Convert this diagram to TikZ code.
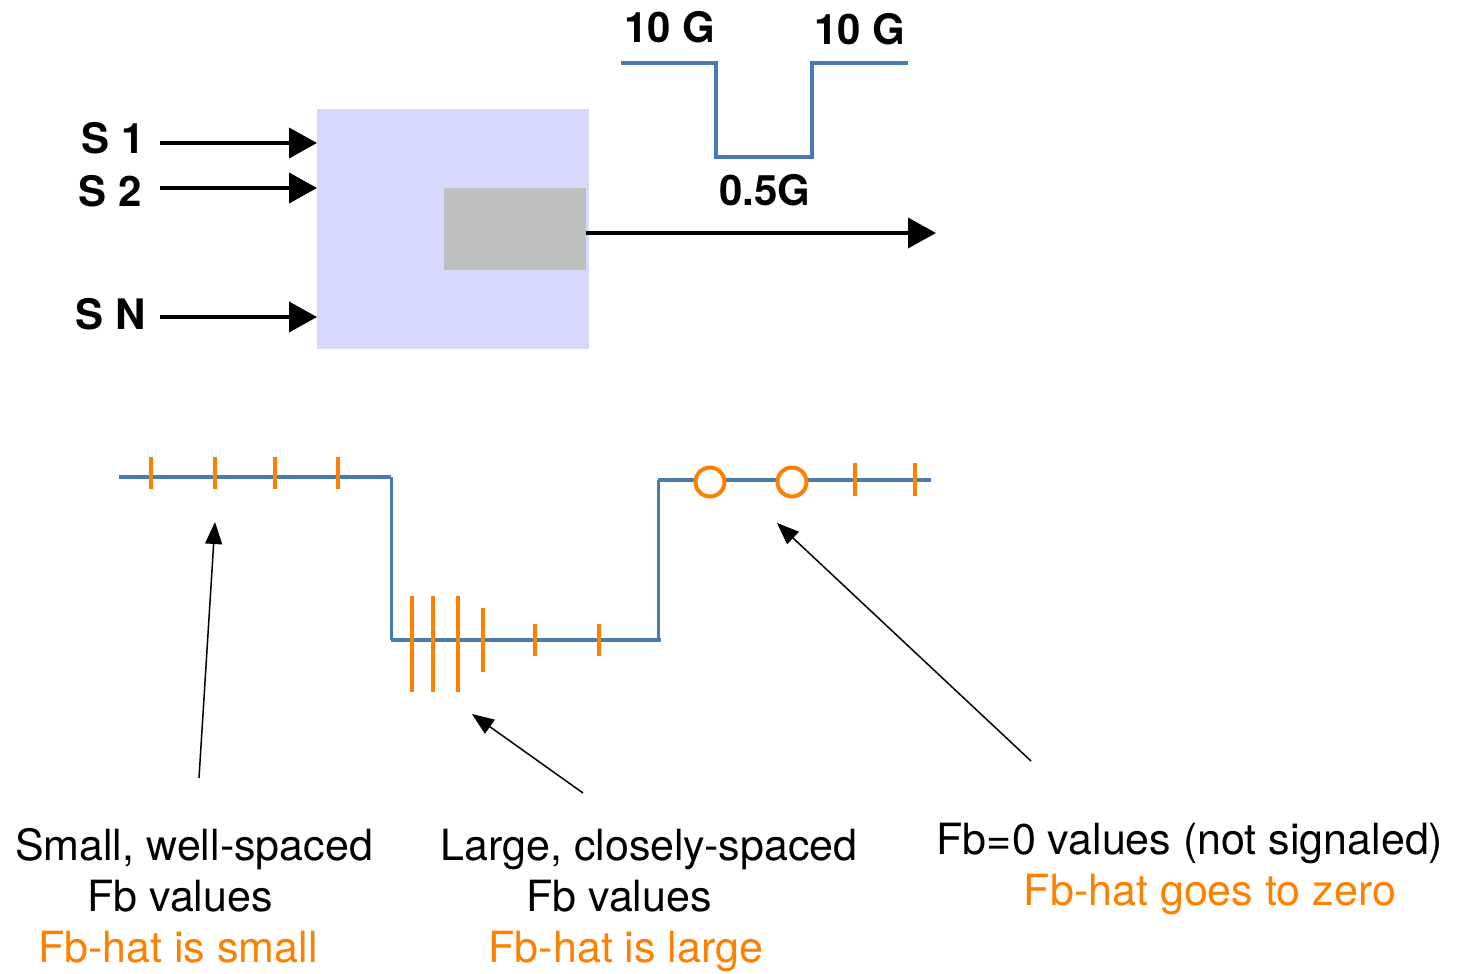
\documentclass[tikz,border=0pt]{standalone}
\usepackage{fontspec}
\setmainfont{TeX Gyre Heros}
\usetikzlibrary{arrows.meta}
\definecolor{boxblue}{RGB}{214,216,252}
\definecolor{boxgray}{RGB}{190,192,190}
\definecolor{wave}{RGB}{72,124,176}
\definecolor{tick}{RGB}{255,128,0}
\tikzset{
  lbl/.style={font=\fontsize{42}{50}\selectfont\bfseries, inner sep=0pt},
  txt/.style={font=\fontsize{43}{50}\selectfont, inner sep=0pt, anchor=base},
  otxt/.style={txt, text=tick},
  bigarrow/.style={line width=4pt, -{Triangle[length=28pt, width=30pt]}},
  thinarrow/.style={line width=1.5pt, -{Triangle[length=22pt, width=17pt]}},
  wavel/.style={draw=wave, line width=4pt},
  tk/.style={draw=tick, line width=3.5pt},
  circ/.style={draw=tick, line width=4pt, circle, minimum size=29pt, inner sep=0pt, fill=white}
}
\begin{document}
\begin{tikzpicture}[x=1pt, y=-1pt]
\useasboundingbox (0,0) rectangle (1461,974);
% main box
\node[fill=boxblue, minimum width=272pt, minimum height=240pt, inner sep=0pt, anchor=north west] (box) at (317,109) {};
\node[fill=boxgray, minimum width=142pt, minimum height=82pt, inner sep=0pt, anchor=north west] (gray) at (444,188) {};
% input labels
\node[lbl, anchor=base east] (l1) at (145,153) {S 1};
\node[lbl, anchor=base east] (l2) at (142,206) {S 2};
\node[lbl, anchor=base east] (ln) at (146,329) {S N};
\coordinate (a1) at (160,143);
\coordinate (a2) at (160,188);
\coordinate (an) at (160,317);
\draw[bigarrow] (a1) -- (a1 -| box.west);
\draw[bigarrow] (a2) -- (a2 -| box.west);
\draw[bigarrow] (an) -- (an -| box.west);
% output
\coordinate (out) at (936,233);
\draw[bigarrow] (gray.east |- out) -- (out);
% top waveform
\draw[wavel] (621,63) -- (716,63) -- (716,157) -- (812,157) -- (812,63) -- (908,63);
\node[lbl, anchor=base] (g1) at (670,43) {10 G};
\node[lbl, anchor=base] (g2) at (860,45) {10 G};
\node[lbl, anchor=base] (g3) at (765,205) {0.5G};
% bottom waveform
\draw[wavel] (119,477) -- (391,477);
\draw[draw=wave, line width=3pt] (391,477) -- (391,640);
\draw[wavel] (391,640) -- (661,640);
\draw[draw=wave, line width=3pt] (658,640) -- (658,480);
\draw[wavel] (658,480) -- (931,480);
% ticks
\foreach \x in {151,215,275,338} \draw[tk] (\x,457) -- (\x,489);
\foreach \x in {412,433,458} \draw[tk] (\x,596) -- (\x,692);
\draw[tk] (483,608) -- (483,672);
\foreach \x in {535,599} \draw[tk] (\x,624) -- (\x,656);
\foreach \x in {855,915} \draw[tk] (\x,463) -- (\x,496);
\node[circ] (c1) at (710,482) {};
\node[circ] (c2) at (792,482) {};
% annotation arrows
\coordinate (t1) at (199,778);
\coordinate (h1) at (215,522);
\coordinate (t2) at (583,793);
\coordinate (h2) at (472,714);
\coordinate (t3) at (1031,761);
\coordinate (h3) at (777,523);
\draw[thinarrow] (t1) -- (h1);
\draw[thinarrow] (t2) -- (h2);
\draw[thinarrow] (t3) -- (h3);
% texts
\node[txt] (x1) at (194,860) {Small, well-spaced};
\node[txt] (x2) at (180,911) {Fb values};
\node[otxt] (x3) at (178,962) {Fb-hat is small};
\node[txt] (y1) at (649,860) {Large, closely-spaced};
\node[txt] (y2) at (619,911) {Fb values};
\node[otxt] (y3) at (626,962) {Fb-hat is large};
\node[txt] (z1) at (1190,854) {Fb=0 values (not signaled)};
\node[otxt] (z2) at (1210,905) {Fb-hat goes to zero};
\end{tikzpicture}
\end{document}
